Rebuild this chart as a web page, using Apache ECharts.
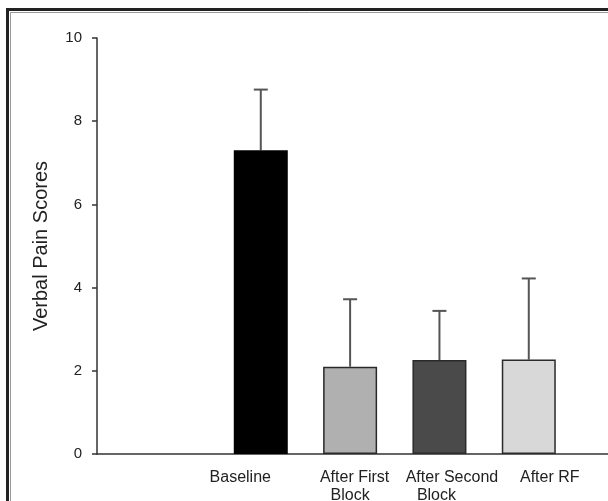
<!DOCTYPE html>
<html>
<head>
<meta charset="utf-8">
<script src="https://cdn.jsdelivr.net/npm/echarts@6/dist/echarts.min.js"></script>
<style>
    html, body { margin: 0; padding: 0; background: #fff; }
    #chart { width: 608px; height: 501px; }
</style>
</head>
<body>
<div id="chart"></div>
<script>
    // groups shown on the x axis
    var categories = ['Baseline', 'After First\nBlock', 'After Second\nBlock', 'After RF'];
    // mean verbal pain score per group
    var means = [7.3, 2.1, 2.26, 2.27];
    // top of the error bar (mean + SD)
    var upper = [8.76, 3.72, 3.44, 4.22];
    var barColors = ['#000000', '#b0b0b0', '#4a4a4a', '#d8d8d8'];
    var yTicks = [0, 2, 4, 6, 8, 10];

    // the original figure leaves an empty gap before the first bar,
    // so the axis is split in narrow slots and every group sits on its own slot
    var slotCount = 18;
    var firstSlot = 5;
    var slotStep = 3;

    // the labels in the original are not quite centred under the bars:
    // padding (left, right) per text line nudges each one
    var labelNudge = [
        [[0, 41]],
        [[9, 0], [0, 0]],
        [[25, 0], [0, 6]],
        [[42, 0]]
    ];

    var slots = [];
    var barData = [];
    for (var s = 0; s < slotCount; s++) {
        slots.push('');
        barData.push('-');
    }
    var errData = [];
    var rich = {};
    categories.forEach(function (name, i) {
        var idx = firstSlot + slotStep * i;
        var lines = name.split('\n');
        slots[idx] = lines.map(function (line, j) {
            var key = 'c' + i + 'l' + j;
            rich[key] = { padding: [0, labelNudge[i][j][1], 0, labelNudge[i][j][0]] };
            return '{' + key + '|' + line + '}';
        }).join('\n');
        barData[idx] = {
            value: means[i],
            itemStyle: {
                color: barColors[i],
                borderColor: i === 0 ? '#000' : '#2a2a2a',
                borderWidth: i === 0 ? 0 : 1.5
            }
        };
        errData.push([idx, means[i], upper[i]]);
    });

    var font = "'Liberation Sans', Arial, sans-serif";
    Object.keys(rich).forEach(function (k) {
        rich[k].fontFamily = font;
        rich[k].fontSize = 16;
        rich[k].lineHeight = 18;
        rich[k].color = '#222';
    });

    var chart = echarts.init(document.getElementById('chart'));
    var option = {
        animation: false,
        backgroundColor: '#fff',
        grid: {
            left: 97,
            top: 38,
            width: 536,
            height: 416,
            outerBoundsMode: 'none'
        },
        graphic: [
            {
                type: 'rect',
                shape: { x: 7.5, y: 9.5, width: 700, height: 600 },
                style: { fill: null, stroke: '#222', lineWidth: 3 },
                silent: true
            },
            {
                type: 'rect',
                shape: { x: 10.5, y: 12.5, width: 700, height: 600 },
                style: { fill: null, stroke: '#9a9a9a', lineWidth: 1 },
                silent: true
            }
        ],
        xAxis: {
            type: 'category',
            data: slots,
            axisLine: { lineStyle: { color: '#333', width: 1.5 } },
            axisTick: { show: false },
            axisLabel: {
                interval: 0,
                margin: 15,
                color: '#222',
                fontFamily: font,
                fontSize: 16,
                lineHeight: 18,
                rich: rich
            }
        },
        yAxis: {
            type: 'value',
            min: yTicks[0],
            max: yTicks[yTicks.length - 1],
            interval: 2,
            name: 'Verbal Pain Scores',
            nameLocation: 'middle',
            nameGap: 46,
            nameTextStyle: { color: '#222', fontFamily: font, fontSize: 20 },
            splitLine: { show: false },
            axisLine: { show: true, lineStyle: { color: '#333', width: 1.5 } },
            axisTick: { show: true, length: 5, lineStyle: { color: '#333', width: 1.5 } },
            axisLabel: { margin: 15, color: '#222', fontFamily: font, fontSize: 15 }
        },
        series: [
            {
                type: 'bar',
                data: barData,
                barWidth: 54
            },
            {
                type: 'custom',
                data: errData,
                z: 1,
                renderItem: function (params, api) {
                    var x = api.value(0);
                    var base = api.coord([x, api.value(1)]);
                    var top = api.coord([x, api.value(2)]);
                    var half = 7;
                    var st = { stroke: '#555', lineWidth: 2 };
                    return {
                        type: 'group',
                        children: [
                            { type: 'line', shape: { x1: base[0], y1: base[1], x2: top[0], y2: top[1] }, style: st },
                            { type: 'line', shape: { x1: top[0] - half, y1: top[1], x2: top[0] + half, y2: top[1] }, style: st }
                        ]
                    };
                }
            }
        ]
    };
    chart.setOption(option);
</script>
</body>
</html>
